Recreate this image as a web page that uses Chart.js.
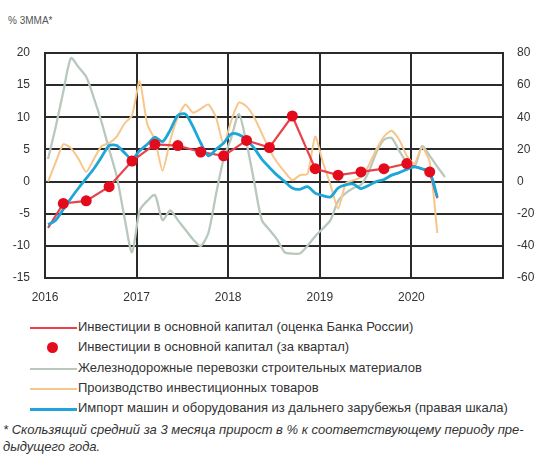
<!DOCTYPE html>
<html>
<head>
<meta charset="utf-8">
<script src="https://cdn.jsdelivr.net/npm/chart.js@4/dist/chart.umd.min.js"></script>
<style>
  body { margin: 0; background: #fff; width: 541px; height: 454px; position: relative; overflow: hidden;
         font-family: 'Liberation Sans', Arial, sans-serif; color: #333; }
  #unit { position: absolute; left: 8px; top: 15px; font-size: 10px; color: #555; }
  #chart { position: absolute; left: 0; top: 0; }
  #legend { position: absolute; left: 30px; top: 317px; font-size: 13px; }
  .row { height: 20.3px; line-height: 20.3px; position: relative; white-space: nowrap; }
  .swatch { position: absolute; left: 0; top: 10px; width: 47px; }
  .dot { position: absolute; left: 17px; top: 5px; width: 11px; height: 11px; border-radius: 50%; }
  .label { position: absolute; left: 48px; top: 0; }
  #note { position: absolute; left: 3px; top: 421px; font-size: 13px; font-style: italic; line-height: 17px; color: #333; white-space: nowrap; }
</style>
</head>
<body>
<div id="unit">% 3MMA*</div>
<canvas id="chart" width="541" height="310"></canvas>
<div id="legend"></div>
<div id="note">* Скользящий средний за 3 месяца прирост в % к соответствующему периоду пре-<br>дыдущего года.</div>
<script>
// monthly series, starting January 2016
const startYear = 2016;
const yearTicks = [2016, 2017, 2018, 2019, 2020];

// railway transportation of construction materials (left axis)
const railValues = [3.5, 8.5, 14, 19.2, 17.8, 16.3, 13, 9.3, 5, 0.8, -5.5, -11,
  -4.5, -3, -2.1, -6, -4.5, -6, -7.5, -9, -10, -8, -2, 3.5,
  6.8, 10.5, 6, 0, -6, -7.5, -9, -11, -11.2, -11.2, -10, -8.5,
  -7.3, -6, -3, -1.8, -1, -0.5, 1.5, 4.5, 6.5, 6.8, 4.8, 3,
  2.3, 5.5, 4, 2.3, 0.7];

// production of investment goods (left axis)
const prodValues = [0, 3, 5.8, 5.2, 3.5, 1.5, 3.5, 5.5, 6, 7, 9, 10.3,
  15.6, 8.9, 6.5, 1.7, 6.4, 10, 12, 10.7, 11.3, 12, 10, 5.8,
  9.5, 12.3, 11.7, 10, 7.5, 5, 3, 1.5, 0.2, 1, 1.2, 7,
  3, -0.5, -4.2, -0.3, 0.2, 0.7, 2.5, 5, 7, 7.9, 6.5, 4,
  2.8, 5.3, 3, -8];

// import of machinery from far abroad (right axis)
const importValues = [-26.8, -24, -17.2, -10.4, -4, 2, 8, 15.2, 22.4, 22.4, 18, 14,
  19.2, 23.2, 27.6, 24.8, 32, 41.2, 42, 34, 24, 16, 20, 24,
  29.6, 29.2, 26, 20.8, 14, 8.8, 4, 0, -4, -4.8, -3.2, -7.2,
  -8.8, -9.6, -4, -2, -1.6, -4.4, -2.4, 0, 1.2, 4, 5.6, 7.6,
  9.2, 8, 6, -9.6];

// investment estimate (Bank of Russia), points by month index
const estMonths = [0, 2, 5, 8, 11, 14, 17, 20, 23, 26, 29, 32, 35, 38, 41, 44, 47, 50, 51];
const estValues = [-7.2, -3.4, -3, -0.8, 3.2, 5.8, 5.6, 4.6, 4, 6.4, 5.3, 10.2, 2, 1, 1.5, 2, 2.8, 1.5, -2.6];

// investment per quarter
const qtrMonths = [2, 5, 8, 11, 14, 17, 20, 23, 26, 29, 32, 35, 38, 41, 44, 47, 50];
const qtrValues = [-3.4, -3, -0.8, 3.2, 5.8, 5.6, 4.6, 4, 6.4, 5.3, 10.2, 2, 1, 1.5, 2, 2.8, 1.5];

const labels = [
  'Инвестиции в основной капитал (оценка Банка России)',
  'Инвестиции в основной капитал (за квартал)',
  'Железнодорожные перевозки строительных материалов',
  'Производство инвестиционных товаров',
  'Импорт машин и оборудования из дальнего зарубежья (правая шкала)'
];
const colors = ['#e8434b', '#e30b1c', '#b9c8bc', '#f7c68a', '#1ea6d9'];

const toX = m => startYear + (m + 0.4) / 12;
const pts = (months, vals) => vals.map((v, i) => ({ x: toX(months ? months[i] : i), y: v }));

const gridColor = '#2a2a2a';
const tickFont = { family: "'Liberation Sans Narrow', 'Liberation Sans', Arial, sans-serif", size: 12 };

new Chart(document.getElementById('chart'), {
  type: 'line',
  data: {
    datasets: [
      { label: labels[1], data: pts(qtrMonths, qtrValues), showLine: false, pointRadius: 5.5,
        pointBackgroundColor: colors[1], pointBorderWidth: 0, yAxisID: 'y' },
      { label: labels[4], data: pts(null, importValues), borderColor: colors[4], borderWidth: 2.8,
        pointRadius: 0, tension: 0.25, yAxisID: 'y2' },
      { label: labels[0], data: pts(estMonths, estValues), borderColor: colors[0], borderWidth: 2.2,
        pointRadius: 0, tension: 0, yAxisID: 'y' },
      { label: labels[3], data: pts(null, prodValues), borderColor: colors[3], borderWidth: 2,
        pointRadius: 0, tension: 0.2, yAxisID: 'y' },
      { label: labels[2], data: pts(null, railValues), borderColor: colors[2], borderWidth: 2.3,
        pointRadius: 0, tension: 0.25, yAxisID: 'y' }
    ]
  },
  options: {
    responsive: false,
    animation: false,
    devicePixelRatio: 1,
    layout: { padding: { top: 53, left: 0, right: 0, bottom: 0 } },
    plugins: { legend: { display: false }, tooltip: { enabled: false } },
    scales: {
      x: {
        type: 'linear', min: 2016, max: 2021,
        afterFit: s => { s.height = 32; },
        afterBuildTicks: s => { s.ticks = yearTicks.concat([2021]).map(v => ({ value: v })); },
        ticks: { padding: 12, color: '#333', font: tickFont, maxRotation: 0,
                 callback: v => yearTicks.includes(v) ? String(v) : '' },
        grid: { color: gridColor, lineWidth: 2, drawTicks: false },
        border: { color: gridColor, width: 2 }
      },
      y: {
        position: 'left', min: -15, max: 20,
        afterFit: s => { s.width = 45; },
        ticks: { stepSize: 5, padding: 15, color: '#333', font: tickFont },
        grid: { color: gridColor, lineWidth: 2, drawTicks: false },
        border: { color: gridColor, width: 2 }
      },
      y2: {
        position: 'right', min: -60, max: 80,
        afterFit: s => { s.width = 38; },
        ticks: { stepSize: 20, padding: 14, color: '#333', font: tickFont },
        grid: { display: false, drawTicks: false },
        border: { color: gridColor, width: 2 }
      }
    }
  }
});

// legend below the chart
const order = [0, 1, 2, 3, 4];
const legend = document.getElementById('legend');
order.forEach(i => {
  const row = document.createElement('div');
  row.className = 'row';
  let mark;
  if (i === 1) {
    mark = '<div class="dot" style="background:' + colors[i] + '"></div>';
  } else {
    const h = i === 4 ? 2.5 : 2;
    mark = '<div class="swatch" style="height:' + h + 'px;background:' + colors[i] + '"></div>';
  }
  row.innerHTML = mark + '<span class="label">' + labels[i] + '</span>';
  legend.appendChild(row);
});
</script>
</body>
</html>
